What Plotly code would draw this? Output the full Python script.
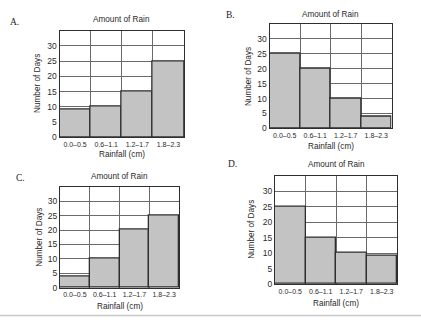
import plotly.graph_objects as go

W, H = 421, 322

# Rainfall bins shared by every histogram
bins = ["0.0\u20130.5", "0.6\u20131.1", "1.2\u20131.7", "1.8\u20132.3"]

# Number of days per bin for each answer choice
days_a = [9, 10, 15, 25]
days_b = [25, 20, 10, 4]
days_c = [4, 10, 20, 25]
days_d = [25, 15, 10, 9]

panel_letters = ["A.", "B.", "C.", "D."]
y_ticks = [0, 5, 10, 15, 20, 25, 30]

# Plot-area boxes in pixels: (left, right, top, bottom)
boxes = [
    (59.5, 184.0, 31.0, 139.5),
    (269.5, 391.5, 24.0, 130.5),
    (60.0, 179.0, 189.5, 292.5),
    (275.0, 397.0, 178.5, 288.5),
]
# Letter positions and axis-title offsets per panel
letter_pos = [(14, 22), (230, 15), (20, 181), (233, 167)]
title_dy = [11, 9, 10, 11]
xtitle_y = [157, 149, 311.5, 308]
ytitle_x = [38, 248, 39.5, 252]

series = [days_a, days_b, days_c, days_d]

BAR_FILL = "#c3c3c3"
EDGE = "#2e2e2e"
GRID = "#6a6a6a"
TEXT = "#2a2a2a"
FONT = "Liberation Sans, Arial, sans-serif"

fig = go.Figure()
annotations = []


def label(text, px, py, size, family=FONT, angle=0, color=TEXT):
    return dict(text=text, x=px / W, y=1 - py / H, xref="paper", yref="paper",
                xanchor="center", yanchor="middle", showarrow=False,
                textangle=angle, font=dict(size=size, color=color, family=family))


for i, (vals, box) in enumerate(zip(series, boxes)):
    n = "" if i == 0 else str(i + 1)
    left, right, top, bottom = box
    fig.add_trace(go.Bar(
        x=list(range(len(bins))), y=vals, width=1.0,
        marker=dict(color=BAR_FILL, line=dict(color=EDGE, width=1.3)),
        xaxis="x" + n, yaxis="y" + n, showlegend=False, hoverinfo="skip",
    ))
    fig.update_layout(**{
        "xaxis" + n: dict(
            domain=[left / W, right / W], anchor="y" + n,
            range=[-0.5, 3.5], tickmode="array",
            tickvals=list(range(len(bins))), ticktext=bins,
            showgrid=False, zeroline=False, ticks="",
            showline=True, mirror=True, linecolor=EDGE, linewidth=1.2,
            minor=dict(tickvals=[0.5, 1.5, 2.5], showgrid=True,
                       gridcolor=GRID, gridwidth=1, ticks=""),
            tickfont=dict(size=7, color=TEXT, family=FONT),
            fixedrange=True,
        ),
        "yaxis" + n: dict(
            domain=[1 - bottom / H, 1 - top / H], anchor="x" + n,
            range=[0, 35], tickmode="array", tickvals=y_ticks,
            showgrid=True, gridcolor=GRID, gridwidth=1,
            zeroline=False, ticks="",
            showline=True, mirror=True, linecolor=EDGE, linewidth=1.2,
            tickfont=dict(size=8.5, color=TEXT, family=FONT),
            fixedrange=True,
        ),
    })
    cx = (left + right) / 2
    annotations += [
        label("Amount of Rain", cx, top - title_dy[i], 8.2),
        label("Rainfall (cm)", cx, xtitle_y[i], 8.2),
        label("Number of Days", ytitle_x[i], (top + bottom) / 2, 8.2, angle=-90),
        label(panel_letters[i], *letter_pos[i], 9.5,
              family="Liberation Serif, Times New Roman, serif", color="#222"),
    ]

fig.update_layout(
    width=W, height=H, margin=dict(l=0, r=0, t=0, b=0),
    paper_bgcolor="white", plot_bgcolor="white",
    bargap=0, annotations=annotations,
    shapes=[dict(type="line", xref="paper", yref="paper",
                 x0=0, x1=1, y0=1 - 320.5 / H, y1=1 - 320.5 / H,
                 line=dict(color="#c8c8c8", width=1.5))],
)

fig.write_html("out.html", config={"displayModeBar": False})
